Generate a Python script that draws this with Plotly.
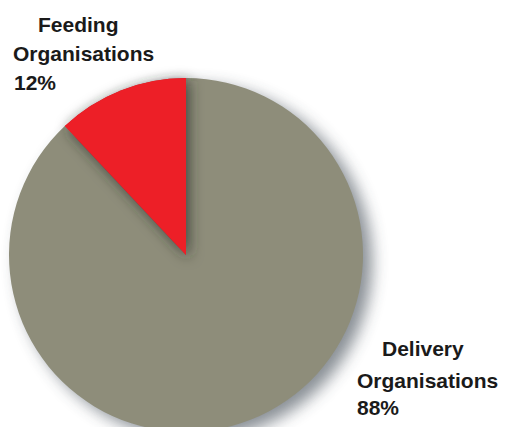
import plotly.graph_objects as go

# Share of organisations by type
labels = ["Delivery Organisations", "Feeding Organisations"]
shares = [88, 12]
colors = ["#8e8d7a", "#ed1f27"]

# Label lines drawn beside the pie: (text, left x px, centre y px)
label_lines = [
    ("Feeding", 36, 25),
    ("Organisations", 11, 53),
    (f"{shares[1]}%", 12, 82),
    ("Delivery", 380, 348),
    ("Organisations", 355, 380),
    (f"{shares[0]}%", 355, 407),
]

W, H = 508, 440

fig = go.Figure(
    go.Pie(
        labels=labels,
        values=shares,
        sort=False,
        direction="clockwise",
        rotation=0,
        marker=dict(colors=colors, line=dict(width=0)),
        textinfo="none",
        hoverinfo="label+percent",
        showlegend=False,
        domain=dict(x=[9 / W, 363 / W], y=[1 - 432 / H, 1 - 78 / H]),
    )
)

for text, px, py in label_lines:
    fig.add_annotation(
        text=f"<b>{text}</b>",
        x=px / W, y=1 - py / H,
        xref="paper", yref="paper",
        xanchor="left", yanchor="middle",
        showarrow=False,
        font=dict(family="Liberation Sans, Arial, sans-serif", size=21, color="#1a1a1a"),
    )

fig.update_layout(
    width=W, height=H,
    margin=dict(l=0, r=0, t=0, b=0),
    paper_bgcolor="white",
    plot_bgcolor="white",
)

# Soft shadows built from blurred copies of the slice outlines:
# one under the whole pie, one cast by the small wedge onto the large one.
# They live outside the trace group so that redraws of the slices keep them
# in the right stacking order, and are rebuilt after every redraw.
shadow_js = """
var gd = document.getElementById('{plot_id}');
var ns = 'http://www.w3.org/2000/svg';
function addBlur(defs, id, sd) {
  if (document.getElementById(id)) return;
  var f = document.createElementNS(ns, 'filter');
  f.setAttribute('id', id);
  f.setAttribute('filterUnits', 'userSpaceOnUse');
  f.setAttribute('x', '-100'); f.setAttribute('y', '-100');
  f.setAttribute('width', '800'); f.setAttribute('height', '800');
  var b = document.createElementNS(ns, 'feGaussianBlur');
  b.setAttribute('stdDeviation', sd);
  f.appendChild(b);
  defs.appendChild(f);
}
function build() {
  var svg = gd.querySelector('svg.main-svg');
  var layer = gd.querySelector('.pielayer');
  if (!svg || !layer) return;
  var defs = svg.querySelector('defs');
  if (!defs) { defs = document.createElementNS(ns, 'defs'); svg.insertBefore(defs, svg.firstChild); }
  addBlur(defs, 'pieBlur', 8);
  addBlur(defs, 'wedgeBlur', 7);

  Array.prototype.slice.call(layer.querySelectorAll('.shadow-art')).forEach(function (e) {
    e.parentNode.removeChild(e);
  });
  var paths = Array.prototype.slice.call(layer.querySelectorAll('.trace path.surface'));
  if (!paths.length) return;

  var pg = document.createElementNS(ns, 'g');
  pg.setAttribute('class', 'shadow-art');
  pg.setAttribute('opacity', '0.6');
  pg.setAttribute('transform', 'translate(9,7)');
  pg.setAttribute('filter', 'url(#pieBlur)');
  pg.setAttribute('pointer-events', 'none');
  paths.forEach(function (p) {
    var c = p.cloneNode(false);
    c.setAttribute('style', 'fill: rgb(58, 68, 80); stroke-width: 0;');
    pg.appendChild(c);
  });
  layer.insertBefore(pg, layer.firstChild);

  var red = null;
  paths.forEach(function (p) {
    if ((p.getAttribute('style') || '').indexOf('237, 31, 39') >= 0) red = p;
  });
  if (!red) red = paths[paths.length - 1];

  var og = document.createElementNS(ns, 'g');
  og.setAttribute('class', 'shadow-art');
  og.setAttribute('pointer-events', 'none');
  var s = red.cloneNode(false);
  s.setAttribute('style', 'fill: rgb(40, 44, 40); fill-opacity: 0.75; stroke-width: 0;');
  s.setAttribute('transform', 'translate(3,3)');
  s.setAttribute('filter', 'url(#wedgeBlur)');
  var r = red.cloneNode(false);
  r.setAttribute('style', 'fill: rgb(237, 31, 39); fill-opacity: 1; stroke-width: 0;');
  og.appendChild(s);
  og.appendChild(r);
  layer.appendChild(og);
}
build();
if (gd.on) gd.on('plotly_afterplot', build);
document.documentElement.style.overflow = 'hidden';
document.body.style.overflow = 'hidden';
"""

fig.write_html("out.html", post_script=shadow_js)
